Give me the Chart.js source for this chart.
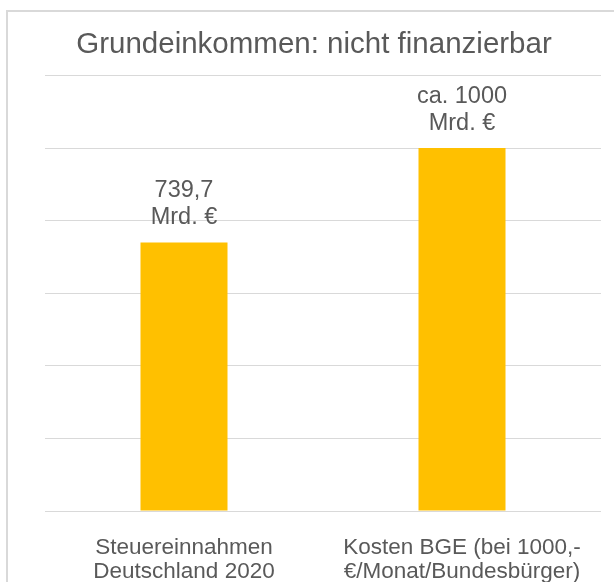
<!DOCTYPE html>
<html>
<head>
<meta charset="utf-8">
<script src="https://cdn.jsdelivr.net/npm/chart.js@4"></script>
<style>
  html, body { margin: 0; padding: 0; background: #ffffff; }
  #wrap { width: 614px; height: 582px; position: relative; }
</style>
</head>
<body>
<div id="wrap"><canvas id="c" width="614" height="582"></canvas></div>
<script>
const chartTitle = "Grundeinkommen: nicht finanzierbar";
const categories = [
  ["Steuereinnahmen", "Deutschland 2020"],
  ["Kosten BGE (bei 1000,-", "€/Monat/Bundesbürger)"]
];
const values = [739.7, 1000];
const valueLabels = [["739,7", "Mrd. €"], ["ca. 1000", "Mrd. €"]];
const yMin = 0, yMax = 1200, yStep = 200;

const FONT = "'Liberation Sans', Arial, sans-serif";
const TEXT = "#595959";

const framePlugin = {
  id: 'frame',
  beforeDraw(chart) {
    const ctx = chart.ctx;
    ctx.save();
    ctx.fillStyle = '#ffffff';
    ctx.fillRect(0, 0, chart.width, chart.height);
    ctx.fillStyle = '#d9d9d9';
    ctx.fillRect(6, 10, 2, chart.height - 10);
    ctx.fillRect(6, 10, chart.width - 6, 2);
    ctx.restore();
  }
};

const valueLabelPlugin = {
  id: 'valueLabels',
  afterDatasetsDraw(chart) {
    const ctx = chart.ctx;
    const meta = chart.getDatasetMeta(0);
    ctx.save();
    ctx.font = "23.5px " + FONT;
    ctx.fillStyle = TEXT;
    ctx.textAlign = 'center';
    ctx.textBaseline = 'alphabetic';
    meta.data.forEach((bar, i) => {
      const lines = valueLabels[i];
      const base = bar.y - 18;
      for (let k = lines.length - 1; k >= 0; k--) {
        ctx.fillText(lines[k], bar.x, base - (lines.length - 1 - k) * 27);
      }
    });
    ctx.restore();
  }
};

new Chart(document.getElementById('c'), {
  type: 'bar',
  data: {
    labels: categories,
    datasets: [{
      data: values,
      backgroundColor: '#FFC000',
      borderWidth: 0,
      barPercentage: 0.313,
      categoryPercentage: 1.0
    }]
  },
  options: {
    responsive: false,
    animation: false,
    devicePixelRatio: 1,
    layout: { padding: { left: 27, right: 13, top: 0, bottom: 0 } },
    plugins: {
      legend: { display: false },
      tooltip: { enabled: false },
      title: {
        display: true,
        text: chartTitle,
        color: TEXT,
        font: { family: FONT, size: 29.5, weight: 'normal', lineHeight: 1.2 },
        padding: { top: 27, bottom: 13 }
      }
    },
    scales: {
      x: {
        grid: { display: false, drawTicks: false },
        border: { display: false },
        ticks: {
          color: TEXT,
          font: { family: FONT, size: 22.5, lineHeight: 1.1 },
          padding: 24,
          maxRotation: 0,
          autoSkip: false
        },
        afterFit(scale) { scale.height = 71; }
      },
      y: {
        min: yMin,
        max: yMax,
        ticks: { display: false, stepSize: yStep },
        grid: { color: '#d9d9d9', lineWidth: 1, drawTicks: false },
        border: { display: false },
        afterFit(scale) { scale.width = 18; }
      }
    }
  },
  plugins: [framePlugin, valueLabelPlugin]
});
</script>
</body>
</html>
